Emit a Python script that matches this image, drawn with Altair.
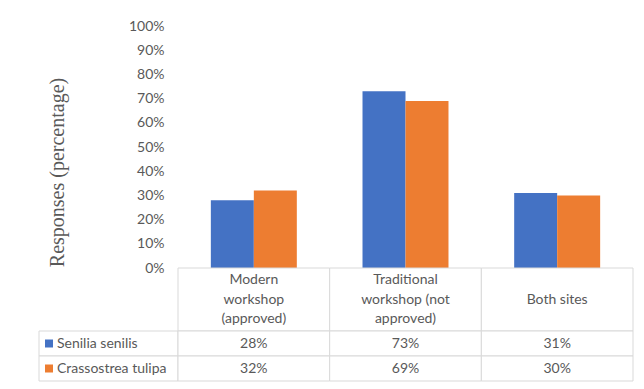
import altair as alt
import pandas as pd

categories = ["Modern workshop (approved)", "Traditional workshop (not approved)", "Both sites"]
header_lines = [["Modern", "workshop", "(approved)"],
                ["Traditional", "workshop (not", "approved)"],
                ["Both sites"]]
series = ["Senilia senilis", "Crassostrea tulipa"]
senilia = [0.28, 0.73, 0.31]
crassostrea = [0.32, 0.69, 0.30]
colors = ["#4472C4", "#ED7D31"]
y_ticks = [0, 0.1, 0.2, 0.3, 0.4, 0.5, 0.6, 0.7, 0.8, 0.9, 1.0]

TEXT = "#595959"
GRID = "#d9d9d9"
FONT = "Lato"

long_rows = []
for i, c in enumerate(categories):
    long_rows.append({"category": c, "series": series[0], "value": senilia[i]})
    long_rows.append({"category": c, "series": series[1], "value": crassostrea[i]})
long_df = pd.DataFrame(long_rows)

line_rows = []
for c, lines in zip(categories, header_lines):
    n = len(lines)
    for k, t in enumerate(lines):
        line_rows.append({"category": c, "line": t, "pos": k - (n - 1) / 2})
lines_df = pd.DataFrame(line_rows)
header_df = pd.DataFrame({"category": categories})
legend_df = pd.DataFrame({"column": ["", ""], "series": series})

LW, RW = 139, 455
H_BARS, H_HEAD, H_VALS = 242, 63, 50

xcat = alt.X("category:N", sort=categories,
             scale=alt.Scale(domain=categories, paddingInner=0, paddingOuter=0),
             axis=None)
ser_scale = alt.Scale(domain=series, range=colors)

bars = alt.Chart(long_df).mark_bar().encode(
    x=xcat,
    xOffset=alt.XOffset("series:N", sort=series,
                        scale=alt.Scale(domain=series, paddingInner=0, paddingOuter=0.764)),
    y=alt.Y("value:Q", scale=alt.Scale(domain=[0, 1], nice=False),
            axis=alt.Axis(format="%", values=y_ticks, grid=False, domain=False, ticks=False,
                          labelPadding=14, labelFont=FONT, labelFontSize=14, labelColor=TEXT,
                          labelFlush=False, labelOverlap=False,
                          title="Responses (percentage)", titleFont="Liberation Serif",
                          titleFontSize=20, titleFontWeight="normal", titleColor=TEXT,
                          titleAngle=270, titleAlign="center", titleBaseline="middle",
                          titleX=-121, titleY=146)),
    color=alt.Color("series:N", scale=ser_scale, legend=None),
).properties(width=RW, height=H_BARS)

def blank(h):
    return alt.Chart(pd.DataFrame({"c": [""]})).mark_text().encode(
        text="c:N").properties(width=LW, height=h)

head_cells = alt.Chart(header_df).mark_rect(fill="white", stroke=GRID, strokeWidth=1).encode(x=xcat)
head_text = alt.Chart(lines_df).mark_text(font=FONT, fontSize=14, color=TEXT,
                                          baseline="middle").encode(
    x=xcat,
    y=alt.Y("pos:Q", scale=alt.Scale(domain=[1.615, -1.615], nice=False, zero=False), axis=None),
    text=alt.Text("line:N"))
header = alt.layer(head_cells, head_text).properties(width=RW, height=H_HEAD)

yser = alt.Y("series:N", sort=series,
             scale=alt.Scale(domain=series, paddingInner=0, paddingOuter=0), axis=None)
val_cells = alt.Chart(long_df).mark_rect(fill="white", stroke=GRID, strokeWidth=1).encode(x=xcat, y=yser)
val_text = alt.Chart(long_df).mark_text(font=FONT, fontSize=14, color=TEXT).encode(
    x=xcat, y=yser, text=alt.Text("value:Q", format=".0%"))
values = alt.layer(val_cells, val_text).properties(width=RW, height=H_VALS)

xleg = alt.X("column:N", scale=alt.Scale(paddingInner=0, paddingOuter=0), axis=None)
leg_cells = alt.Chart(legend_df).mark_rect(fill="white", stroke=GRID, strokeWidth=1).encode(
    x=xleg, y=yser)
leg_sw = alt.Chart(legend_df).mark_square(size=64, opacity=1, xOffset=10).encode(
    x=alt.X("column:N", scale=alt.Scale(paddingInner=0, paddingOuter=0), axis=None, bandPosition=0),
    y=yser, color=alt.Color("series:N", scale=ser_scale, legend=None))
leg_text = alt.Chart(legend_df).mark_text(font=FONT, fontSize=14, color=TEXT, align="left",
                                          xOffset=18).encode(
    x=alt.X("column:N", scale=alt.Scale(paddingInner=0, paddingOuter=0), axis=None, bandPosition=0),
    y=yser, text="series:N")
legend = alt.layer(leg_cells, leg_sw, leg_text).properties(width=LW, height=H_VALS)

chart = alt.ConcatChart(
    concat=[blank(H_BARS), bars, blank(H_HEAD), header, legend, values],
    columns=2, spacing=0, bounds="flush", align="each",
).properties(
    padding={"left": 38, "top": 19, "right": 10, "bottom": 8},
    background="white",
).configure_view(strokeWidth=0)

chart.save("out.html", embed_options={"renderer": "svg", "actions": False})
